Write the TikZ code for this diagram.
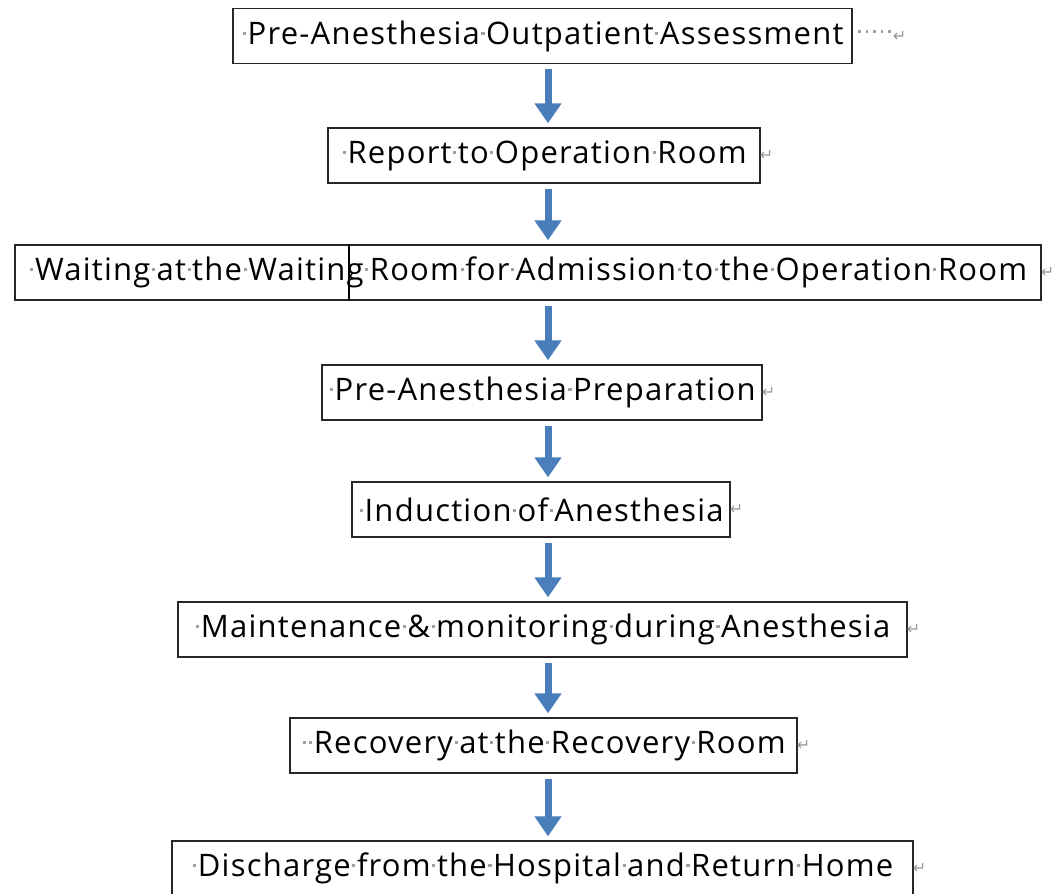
\documentclass[tikz,border=0pt]{standalone}
\usepackage{fontspec}
\setmainfont{Open Sans}
\newfontfamily\boxfont{Open Sans}[LetterSpace=4]
\newfontfamily\symfont{DejaVu Sans}
\usetikzlibrary{arrows.meta}
\definecolor{arrowblue}{HTML}{4A7EBB}
\newcommand\ws{\hspace{0.05em}\raisebox{0.3em}{\textcolor{gray!75}{\rule{0.1em}{0.1em}}}\hspace{0.05em}}
\newcommand\pmk{\textcolor{gray!80}{\symfont\fontsize{16}{16}\selectfont ↵}}
\newcommand\gdot{\raisebox{9pt}{\textcolor{gray!75}{\rule{2.6pt}{2.6pt}}}}
\begin{document}
\begin{tikzpicture}[x=1pt,y=-1pt,
  box/.style={draw=black!85, line width=1.4pt, minimum height=55pt, inner sep=0pt,
              font=\boxfont\fontsize{31}{31}\selectfont},
  flow/.style={draw=arrowblue, line width=7pt, shorten <=5pt, shorten >=4pt,
               -{Triangle[width=26pt,length=20pt]}},
  pm/.style={anchor=west, inner sep=0pt, xshift=-1pt}]
\useasboundingbox (0,0) rectangle (1063,894);
\begin{scope}
\clip (0,0) rectangle (1063,894);
\coordinate (ax) at (548,0);
\coordinate (dv) at (349,0);

\node[box, minimum width=619pt] (b1) at (542.5,36) {\ws Pre-Anesthesia\ws Outpatient\ws Assessment};
\node[box, minimum width=432pt] (b2) at (544,155.5) {\ws Report\ws to\ws Operation\ws Room};
\node[box, minimum width=1026pt] (b3) at (528,272.5) {\ws Waiting\ws at\ws the\ws Waiting\ws Room\ws for\ws Admission\ws to\ws the\ws Operation\ws Room};
\node[box, minimum width=440pt] (b4) at (542,392.5) {\ws Pre-Anesthesia\ws Preparation};
\node[box, minimum width=378pt] (b5) at (541,509.5) {\ws Induction\ws of\ws Anesthesia};
\node[box, minimum width=729pt] (b6) at (542.5,629.5) {\ws Maintenance\ws \&\ws monitoring\ws during\ws Anesthesia};
\node[box, minimum width=507pt] (b7) at (543.5,745.5) {\ws\ws Recovery\ws at\ws the\ws Recovery\ws Room};
\node[box, minimum width=741pt] (b8) at (542.5,868.5) {\ws Discharge\ws from\ws the\ws Hospital\ws and\ws Return\ws Home};

\draw[line width=2.4pt] (b3.north -| dv) -- (b3.south -| dv);

\node[pm, xshift=6pt] (m1) at (b1.east) {\gdot\hspace{5pt}\gdot\hspace{5pt}\gdot\hspace{5pt}\gdot\hspace{5pt}\gdot\hspace{2pt}\pmk};
\node[pm] (m2) at (b2.east) {\pmk};
\node[pm] (m3) at (b3.east) {\pmk};
\node[pm] (m4) at (b4.east) {\pmk};
\node[pm] (m5) at (b5.east) {\pmk};
\node[pm] (m6) at (b6.east) {\pmk};
\node[pm] (m7) at (b7.east) {\pmk};
\node[pm] (m8) at (b8.east) {\pmk};

\draw[flow] (b1.south -| ax) -- (b2.north -| ax);
\draw[flow] (b2.south -| ax) -- (b3.north -| ax);
\draw[flow] (b3.south -| ax) -- (b4.north -| ax);
\draw[flow] (b4.south -| ax) -- (b5.north -| ax);
\draw[flow] (b5.south -| ax) -- (b6.north -| ax);
\draw[flow] (b6.south -| ax) -- (b7.north -| ax);
\draw[flow] (b7.south -| ax) -- (b8.north -| ax);
\end{scope}
\end{tikzpicture}
\end{document}
